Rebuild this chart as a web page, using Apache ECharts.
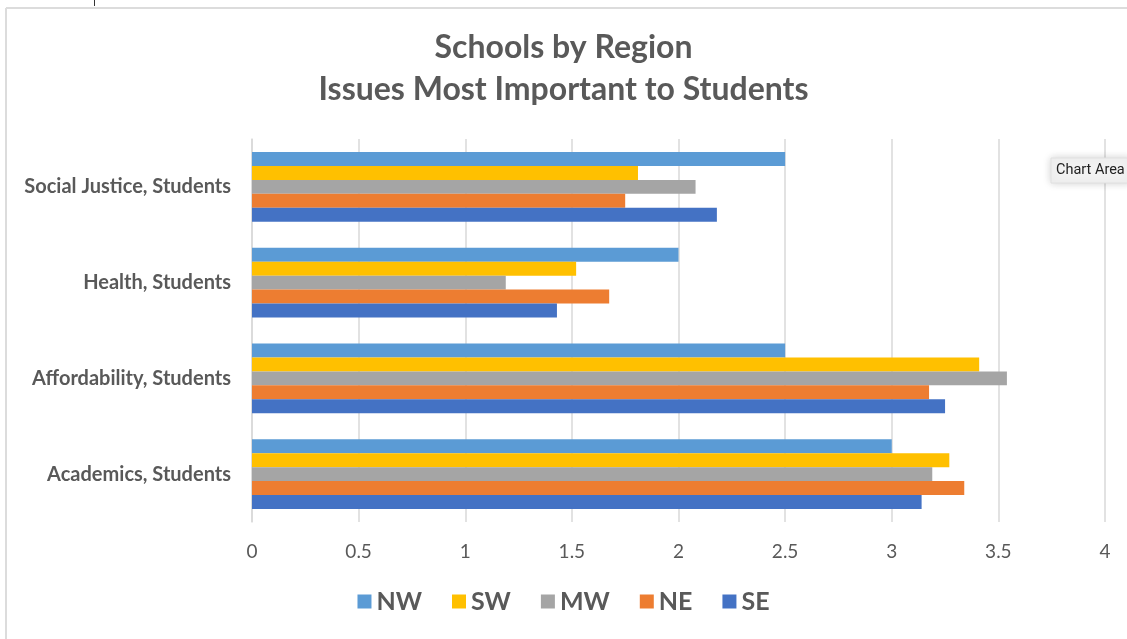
<!DOCTYPE html>
<html>
<head>
<meta charset="utf-8">
<script src="https://cdn.jsdelivr.net/npm/echarts@6/dist/echarts.min.js"></script>
<style>
  html, body { margin: 0; padding: 0; background: #fff; }
  #chart { width: 1127px; height: 639px; }
</style>
</head>
<body>
<div id="chart"></div>
<script>
// categories, bottom to top as drawn
var categories = ['Academics, Students', 'Affordability, Students', 'Health, Students', 'Social Justice, Students'];
var regions = ['NW', 'SW', 'MW', 'NE', 'SE'];
var colors = ['#5B9BD5', '#FFC000', '#A5A5A5', '#ED7D31', '#4472C4'];

var nwValues = [3.0, 2.5, 2.0, 2.5];
var swValues = [3.27, 3.41, 1.52, 1.81];
var mwValues = [3.19, 3.54, 1.19, 2.08];
var neValues = [3.34, 3.175, 1.675, 1.75];
var seValues = [3.14, 3.25, 1.43, 2.18];

var xTicks = { min: 0, max: 4, interval: 0.5 };

var seriesValues = [nwValues, swValues, mwValues, neValues, seValues];
var textColor = '#595959';

var chart = echarts.init(document.getElementById('chart'));

var series = regions.map(function (name, i) {
    return {
        name: name,
        type: 'bar',
        data: seriesValues[i],
        barGap: '0%',
        barCategoryGap: '27%',
        itemStyle: { color: colors[i] },
        animation: false
    };
});

chart.setOption({
    animation: false,
    title: {
        text: 'Schools by Region\nIssues Most Important to Students',
        left: 'center',
        top: 22,
        textStyle: {
            fontFamily: 'Lato',
            fontWeight: 'bold',
            fontSize: 32,
            lineHeight: 42,
            color: textColor
        }
    },
    legend: {
        data: regions,
        bottom: 20,
        left: 'center',
        itemWidth: 14,
        itemHeight: 14,
        itemGap: 30,
        icon: 'rect',
        textStyle: { fontFamily: 'Lato', fontWeight: 'bold', fontSize: 25, color: textColor }
    },
    grid: { left: 252, right: 22, top: 139, bottom: 117, containLabel: false },
    xAxis: {
        type: 'value',
        min: xTicks.min,
        max: xTicks.max,
        interval: xTicks.interval,
        axisLine: { show: false },
        axisTick: { show: false },
        axisLabel: { margin: 20, fontFamily: 'Lato', fontSize: 19, color: textColor },
        splitLine: { lineStyle: { color: '#d9d9d9', width: 1.5 } }
    },
    yAxis: {
        type: 'category',
        data: categories,
        axisLine: { show: true, lineStyle: { color: '#d9d9d9', width: 1.5 } },
        axisTick: { show: false },
        axisLabel: { margin: 21, fontFamily: 'Lato', fontWeight: 'bold', fontSize: 20, color: textColor }
    },
    graphic: [
        { type: 'line', shape: { x1: 6, y1: 8, x2: 1127, y2: 8 }, style: { stroke: '#dcdcdc', lineWidth: 2 } },
        { type: 'line', shape: { x1: 6, y1: 8, x2: 6, y2: 639 }, style: { stroke: '#dcdcdc', lineWidth: 2 } },
        { type: 'line', shape: { x1: 94.5, y1: 0, x2: 94.5, y2: 6 }, style: { stroke: '#333', lineWidth: 1 } },
        {
            type: 'rect', shape: { x: 1051, y: 158, width: 80, height: 25 },
            style: { fill: '#f2f2f2', stroke: '#e0e0e0', lineWidth: 1, shadowBlur: 8, shadowColor: 'rgba(0,0,0,0.18)' },
            z: 100
        },
        {
            type: 'text', x: 1056, y: 170.5, z: 101,
            style: { text: 'Chart Area', fontFamily: 'Roboto', fontSize: 14.5, fill: '#222', verticalAlign: 'middle' }
        }
    ],
    series: series
});

window.addEventListener('resize', function () {
    chart.resize();
});
</script>
</body>
</html>
